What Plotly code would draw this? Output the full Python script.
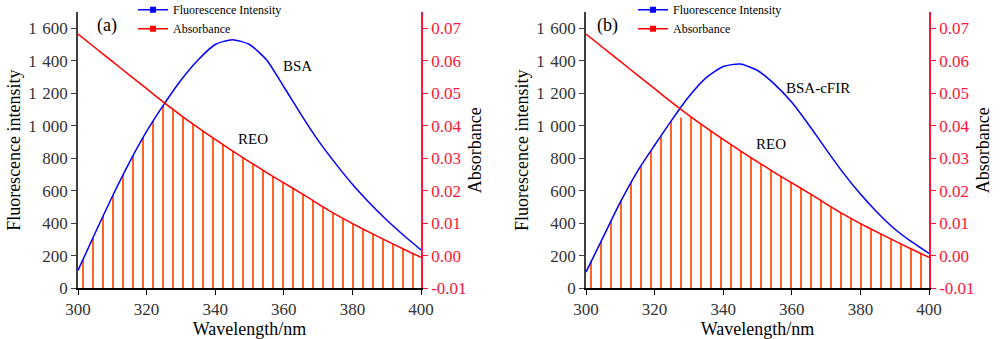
import numpy as np
import plotly.graph_objects as go

# ---------------- data ----------------
wavelength = [300, 305, 310, 315, 320, 325, 330, 335, 340, 345, 350,
              355, 360, 365, 370, 375, 380, 385, 390, 395, 400]
fl_bsa = [110, 340, 565, 775, 965, 1130, 1280, 1405, 1500, 1530, 1500,
          1405, 1240, 1070, 910, 770, 640, 525, 420, 325, 236]
fl_bsa_cfir = [100, 315, 530, 720, 880, 1035, 1180, 1295, 1365, 1380, 1340,
               1255, 1145, 1005, 855, 710, 580, 465, 365, 285, 215]
abs_reo = [0.0682, 0.0640, 0.0598, 0.0556, 0.0514, 0.0472, 0.0432, 0.0394,
           0.0358, 0.0323, 0.0289, 0.0256, 0.0224, 0.0193, 0.0160, 0.0128,
           0.0099, 0.0072, 0.0046, 0.0020, -0.0005]

x_tickvals = [300, 320, 340, 360, 380, 400]
fl_tickvals = [0, 200, 400, 600, 800, 1000, 1200, 1400, 1600]
fl_ticktext = ["0", "200", "400", "600", "800",
               "1\u2004000", "1\u2004200", "1\u2004400", "1\u2004600"]
abs_tickvals = [-0.01, 0.0, 0.01, 0.02, 0.03, 0.04, 0.05, 0.06, 0.07]
abs_ticktext = ["-0.01", "0.00", "0.01", "0.02", "0.03", "0.04", "0.05", "0.06", "0.07"]

FL_RANGE = [0, 1700]
ABS_RANGE = [-0.01, 0.075]
X_RANGE = [300, 400]

panel_labels = ["(a)", "(b)"]
sample_labels = ["BSA", "BSA-cFIR"]
reo_label = "REO"

# ---------------- style ----------------
FONT = "Liberation Serif"
BLUE = "#0000FF"
RED = "#FF0000"
AXRED = "#FF1535"
HATCH = "#FF6424"
TICKGRAY = "#333333"

fig = go.Figure()

wl = np.array(wavelength)
abs_arr = np.array(abs_reo)
abs_on_fl = (abs_arr - ABS_RANGE[0]) / (ABS_RANGE[1] - ABS_RANGE[0]) * (FL_RANGE[1] - FL_RANGE[0]) + FL_RANGE[0]

panels = [
    dict(fl=fl_bsa, x="x", y="y", y2="y2", legend="legend"),
    dict(fl=fl_bsa_cfir, x="x2", y="y3", y2="y4", legend="legend2"),
]

for p in panels:
    overlap = np.minimum(np.array(p["fl"]), abs_on_fl)
    fig.add_trace(go.Scatter(
        x=wl, y=overlap, xaxis=p["x"], yaxis=p["y"], mode="lines",
        line=dict(width=0), fill="tozeroy", fillcolor=HATCH,
        fillpattern=dict(shape="|", fgcolor=HATCH, bgcolor="rgba(255,255,255,0)",
                         fgopacity=1, size=10, solidity=0.2),
        showlegend=False, hoverinfo="skip"))
    fig.add_trace(go.Scatter(
        x=wavelength, y=p["fl"], xaxis=p["x"], yaxis=p["y"], mode="lines",
        line=dict(color=BLUE, width=1.5, shape="spline", smoothing=0.6),
        showlegend=False))
    fig.add_trace(go.Scatter(
        x=wavelength, y=abs_reo, xaxis=p["x"], yaxis=p["y2"], mode="lines",
        line=dict(color=RED, width=1.5, shape="spline", smoothing=0.6),
        showlegend=False))
    # legend entries
    fig.add_trace(go.Scatter(
        x=[None], y=[None], xaxis=p["x"], yaxis=p["y"], mode="lines+markers",
        name="Fluorescence Intensity", line=dict(color=BLUE, width=1.5),
        marker=dict(symbol="square", size=6, color=BLUE), legend=p["legend"]))
    fig.add_trace(go.Scatter(
        x=[None], y=[None], xaxis=p["x"], yaxis=p["y2"], mode="lines+markers",
        name="Absorbance", line=dict(color=RED, width=1.5),
        marker=dict(symbol="square", size=6, color=RED), legend=p["legend"]))

ydom = [(339 - 288.3) / 339, (339 - 12) / 339]
xdoms = [[0.078, 0.421], [0.586, 0.929]]

def xaxis_cfg(dom, anchor):
    return dict(domain=dom, anchor=anchor, range=X_RANGE, tickvals=x_tickvals,
                automargin=False,
                showgrid=False, zeroline=False, showline=True, linecolor="#000000",
                linewidth=1.5, ticks="outside", ticklen=5, tickcolor="#000000",
                tickfont=dict(family=FONT, size=17, color=TICKGRAY),
                title=dict(text="Wavelength/nm", font=dict(family=FONT, size=18, color="#000000"),
                           standoff=4))

def yaxis_cfg(anchor):
    return dict(domain=ydom, anchor=anchor, range=FL_RANGE, tickvals=fl_tickvals,
                ticktext=fl_ticktext, automargin=False,
                showgrid=False, zeroline=False, showline=True,
                linecolor="#404040", linewidth=1.5, ticks="outside", ticklen=5,
                tickcolor="#404040", tickfont=dict(family=FONT, size=17, color=TICKGRAY),
                title=dict(text="Fluorescence intensity",
                           font=dict(family=FONT, size=18, color="#000000"), standoff=3))

def y2axis_cfg(anchor, overlay):
    return dict(anchor=anchor, overlaying=overlay, side="right", range=ABS_RANGE,
                tickvals=abs_tickvals, ticktext=abs_ticktext, automargin=False,
                showgrid=False, zeroline=False, showline=True, linecolor=AXRED, linewidth=1.5,
                ticks="outside", ticklen=5, tickcolor=AXRED,
                tickfont=dict(family=FONT, size=17, color=AXRED),
                title=dict(text="Absorbance", font=dict(family=FONT, size=18, color="#000000"),
                           standoff=3))

legend_font = dict(family=FONT, size=12, color="#000000")

fig.update_layout(
    width=1000, height=339,
    margin=dict(l=0, r=0, t=0, b=0, autoexpand=False),
    paper_bgcolor="white", plot_bgcolor="white",
    font=dict(family=FONT, color="#000000"),
    xaxis=xaxis_cfg(xdoms[0], "y"),
    yaxis=yaxis_cfg("x"),
    yaxis2=y2axis_cfg("x", "y"),
    xaxis2=xaxis_cfg(xdoms[1], "y3"),
    yaxis3=yaxis_cfg("x2"),
    yaxis4=y2axis_cfg("x2", "y3"),
    legend=dict(x=0.133, y=1.014, xanchor="left", yanchor="top", font=legend_font,
                bgcolor="rgba(0,0,0,0)", borderwidth=0, tracegroupgap=0, itemwidth=30),
    legend2=dict(x=0.633, y=1.014, xanchor="left", yanchor="top", font=legend_font,
                 bgcolor="rgba(0,0,0,0)", borderwidth=0, tracegroupgap=0, itemwidth=30),
    showlegend=True,
)

ann_font = dict(family=FONT, size=15, color="#000000")
for i, px in enumerate([107, 607]):
    fig.add_annotation(text=panel_labels[i], xref="paper", yref="paper",
                       x=px / 1000, y=1 - 26 / 339, xanchor="center", yanchor="middle",
                       showarrow=False, font=dict(family=FONT, size=18, color="#000000"))
fig.add_annotation(text=sample_labels[0], xref="x", yref="y", x=364, y=1370,
                   showarrow=False, font=ann_font)
fig.add_annotation(text=sample_labels[1], xref="x2", yref="y3", x=367.7, y=1235,
                   showarrow=False, font=ann_font)
fig.add_annotation(text=reo_label, xref="x", yref="y", x=351, y=920,
                   showarrow=False, font=ann_font)
fig.add_annotation(text=reo_label, xref="x2", yref="y3", x=354, y=885,
                   showarrow=False, font=ann_font)

fig.write_html("out.html")
